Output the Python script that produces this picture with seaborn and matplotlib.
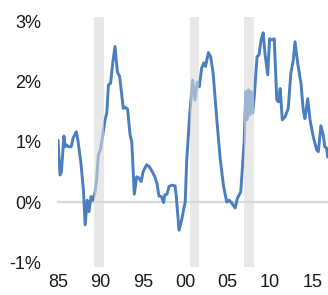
import numpy as np
import pandas as pd
import matplotlib
matplotlib.use("Agg")
import matplotlib.pyplot as plt
import seaborn as sns

# Series (decimal year, percent)
years = [
    1985.00, 1985.24, 1985.40, 1985.70, 1985.85, 1986.00, 1986.30, 1986.55, 1986.80,
    1987.15, 1987.35, 1987.70, 1988.00, 1988.20, 1988.45, 1988.65, 1988.90, 1989.10,
    1989.35, 1989.55, 1989.75, 1990.00, 1990.25, 1990.55, 1990.75, 1990.95, 1991.20,
    1991.45, 1991.72, 1992.00, 1992.27, 1992.70, 1992.90, 1993.20, 1993.50, 1993.70,
    1994.00, 1994.28, 1994.55, 1994.80, 1995.05, 1995.45, 1995.75, 1996.10, 1996.42,
    1996.67, 1996.90, 1997.20, 1997.45, 1997.60, 1997.85, 1998.10, 1998.40, 1998.80,
    1998.95, 1999.27, 1999.58, 1999.85, 2000.00, 2000.18, 2000.57, 2000.88, 2001.15,
    2001.43, 2001.66, 2001.94, 2002.20, 2002.40, 2002.73, 2003.00, 2003.30, 2003.70,
    2004.10, 2004.50, 2004.90, 2005.20, 2005.50, 2005.90, 2006.15, 2006.55, 2006.78,
    2006.95, 2007.15, 2007.28, 2007.45, 2007.60, 2007.77, 2007.95, 2008.15, 2008.47,
    2008.70, 2008.95, 2009.20, 2009.40, 2009.73, 2009.95, 2010.20, 2010.50, 2010.80,
    2011.00, 2011.20, 2011.45, 2011.78, 2012.15, 2012.45, 2012.75, 2012.95, 2013.27,
    2013.65, 2013.92, 2014.12, 2014.45, 2014.72, 2015.10, 2015.50, 2015.70, 2016.00,
    2016.27, 2016.47, 2016.67, 2016.80,
]
values = [
    1.03, 0.45, 0.50, 1.10, 0.92, 0.95, 0.92, 0.92, 1.07,
    1.17, 1.03, 0.65, 0.20, -0.38, 0.03, -0.16, 0.09, 0.03,
    0.15, 0.37, 0.78, 0.87, 1.09, 1.37, 1.48, 1.95, 1.98,
    2.31, 2.59, 2.17, 2.09, 1.56, 1.58, 1.55, 1.12, 1.00,
    0.13, 0.42, 0.40, 0.34, 0.51, 0.62, 0.59, 0.51, 0.42,
    0.31, 0.10, 0.09, -0.01, 0.12, 0.13, 0.26, 0.28, 0.27,
    0.09, -0.47, -0.30, -0.10, 0.00, 0.70, 1.53, 2.03, 1.70,
    2.00, 1.92, 2.23, 2.32, 2.26, 2.49, 2.42, 2.14, 1.42,
    0.76, 0.28, 0.00, 0.03, -0.02, -0.10, 0.06, 0.17, 0.64,
    1.00, 1.84, 1.37, 1.87, 1.45, 1.84, 1.48, 1.76, 2.42,
    2.45, 2.70, 2.82, 2.48, 2.12, 2.72, 2.70, 2.72, 1.70,
    1.67, 1.89, 1.37, 1.42, 1.56, 2.14, 2.37, 2.67, 2.31,
    1.98, 1.53, 1.39, 1.72, 1.37, 1.09, 0.87, 0.84, 1.27,
    1.12, 0.92, 0.90, 0.75,
]

# Shaded periods (start, end)
band_start = [1989.2, 2000.53, 2006.9]
band_end = [1990.4, 2001.67, 2008.16]

x_ticks = [1985, 1990, 1995, 2000, 2005, 2010, 2015]
x_labels = ["85", "90", "95", "00", "05", "10", "15"]
y_ticks = [-1, 0, 1, 2, 3]
y_labels = ["-1%", "0%", "1%", "2%", "3%"]

df = pd.DataFrame({"year": years, "value": values})

sns.set_style("white")
plt.rcParams["font.family"] = ["Liberation Sans", "DejaVu Sans"]

fig = plt.figure(figsize=(3.28, 2.95), dpi=100)
ax = fig.add_axes([58 / 328, 28 / 295, 270 / 328, 250 / 295])

sns.lineplot(data=df, x="year", y="value", color="#4a7ebf", linewidth=2.1, ax=ax, zorder=2)

for s, e in zip(band_start, band_end):
    ax.axvspan(s, e, color="#d9d9d9", alpha=0.6, lw=0, zorder=3)

ax.set_xlim(1985, 1985 + 270 / 8.48)
ax.set_ylim(-1.083, 3.083)

for side in ["top", "right", "left"]:
    ax.spines[side].set_visible(False)
ax.spines["bottom"].set_position(("data", 0))
ax.spines["bottom"].set_color("#d9d9d9")
ax.spines["bottom"].set_linewidth(1.6)
ax.spines["bottom"].set_zorder(1)

ax.set_xticks(x_ticks)
ax.set_xticklabels(x_labels)
ax.set_yticks(y_ticks)
ax.set_yticklabels(y_labels)
ax.tick_params(axis="x", direction="out", length=3.6, width=1.2, color="#d9d9d9",
               pad=48, labelsize=13, labelcolor="#1a1a1a")
ax.tick_params(axis="y", length=0, pad=12, labelsize=13, labelcolor="#1a1a1a")
ax.set_xlabel("")
ax.set_ylabel("")
ax.grid(False)

fig.savefig("out.png", dpi=100)
